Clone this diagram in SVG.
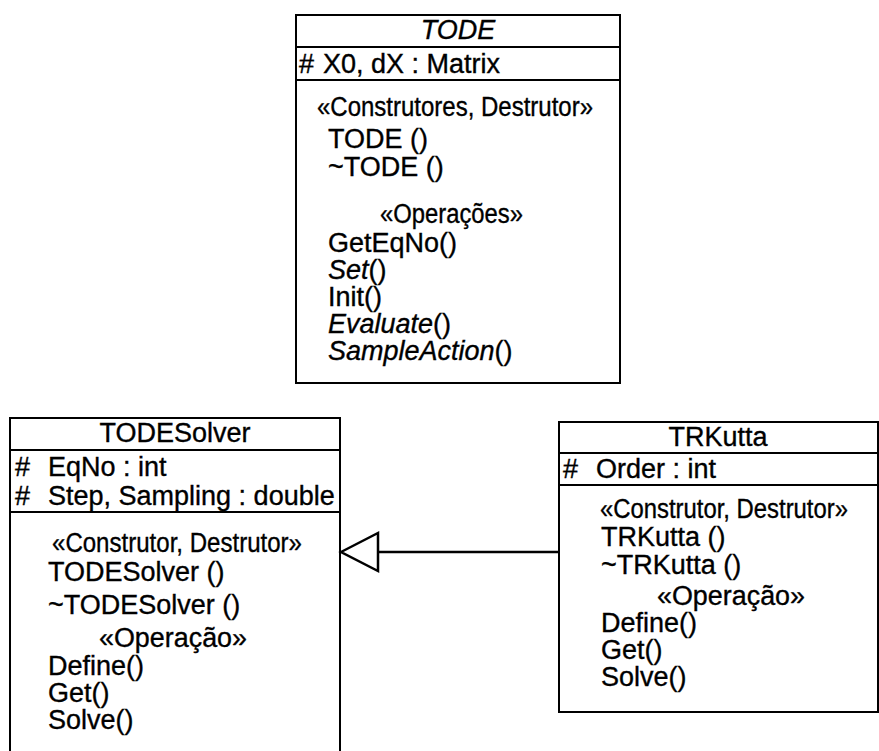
<svg xmlns="http://www.w3.org/2000/svg" width="879" height="751" viewBox="0 0 879 751">
<style>
text{font-family:"Liberation Sans",Arial,sans-serif;font-size:27px;fill:#000;stroke:#000;stroke-width:0.35}
.t{text-anchor:middle}
.i{font-style:italic}
.box{fill:#fff;stroke:#000;stroke-width:2}
.sep{stroke:#000;stroke-width:2}
.conn{stroke:#000;stroke-width:2.5;fill:none}
.head{fill:#fff;stroke:#000;stroke-width:2.5;stroke-linejoin:miter}
</style>
<rect width="879" height="751" fill="#fff"/>
<g id="TODE">
<rect class="box" x="296" y="15" width="324" height="368"/>
<line class="sep" x1="296" y1="47" x2="620" y2="47"/>
<line class="sep" x1="296" y1="80" x2="620" y2="80"/>
<text class="t i" x="458" y="39">TODE</text>
<text x="299" y="73">#</text>
<text x="323" y="73">X0, dX : Matrix</text>
<text x="317" y="116" textLength="276" lengthAdjust="spacingAndGlyphs">«Construtores, Destrutor»</text>
<text x="328" y="148">TODE ()</text>
<text x="328" y="176">~TODE ()</text>
<text x="380" y="223" textLength="143" lengthAdjust="spacingAndGlyphs">«Operações»</text>
<text x="328" y="252">GetEqNo()</text>
<text x="328" y="279"><tspan class="i">Set</tspan>()</text>
<text x="328" y="306">Init()</text>
<text x="328" y="333"><tspan class="i">Evaluate</tspan>()</text>
<text x="328" y="360"><tspan class="i">SampleAction</tspan>()</text>
</g>
<g id="TODESolver">
<rect class="box" x="10" y="418" width="330" height="350"/>
<line class="sep" x1="10" y1="450" x2="340" y2="450"/>
<line class="sep" x1="10" y1="512" x2="340" y2="512"/>
<text class="t" x="175" y="442">TODESolver</text>
<text x="15" y="476">#</text>
<text x="48" y="476">EqNo : int</text>
<text x="15" y="505">#</text>
<text x="48" y="505">Step, Sampling : double</text>
<text x="52" y="552" textLength="250" lengthAdjust="spacingAndGlyphs">«Construtor, Destrutor»</text>
<text x="48" y="581">TODESolver ()</text>
<text x="48" y="614">~TODESolver ()</text>
<text x="99" y="647" textLength="148" lengthAdjust="spacingAndGlyphs">«Operação»</text>
<text x="48" y="675">Define()</text>
<text x="48" y="702">Get()</text>
<text x="48" y="729">Solve()</text>
</g>
<g id="TRKutta">
<rect class="box" x="559" y="422" width="319" height="290"/>
<line class="sep" x1="559" y1="453" x2="878" y2="453"/>
<line class="sep" x1="559" y1="485" x2="878" y2="485"/>
<text class="t" x="718" y="446">TRKutta</text>
<text x="563" y="478">#</text>
<text x="596" y="478">Order : int</text>
<text x="600" y="518" textLength="248" lengthAdjust="spacingAndGlyphs">«Construtor, Destrutor»</text>
<text x="601" y="546">TRKutta ()</text>
<text x="601" y="574">~TRKutta ()</text>
<text x="657" y="605" textLength="148" lengthAdjust="spacingAndGlyphs">«Operação»</text>
<text x="601" y="632">Define()</text>
<text x="601" y="659">Get()</text>
<text x="601" y="686">Solve()</text>
</g>
<g id="connectors">
<line class="conn" x1="559" y1="552" x2="378" y2="552"/>
<polygon class="head" points="341,552 378,533 378,571"/>
</g>
</svg>
